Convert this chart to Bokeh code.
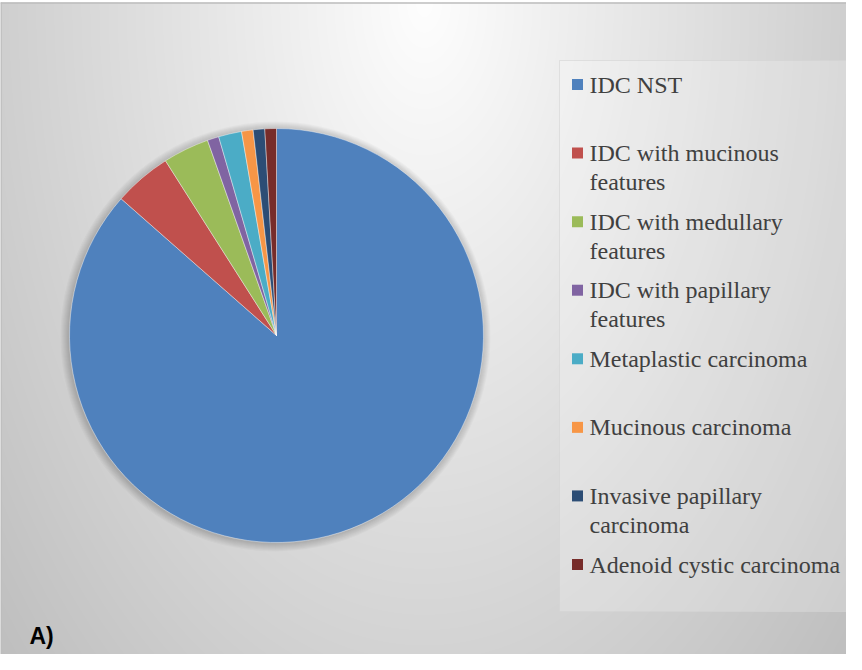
import numpy as np
from bokeh.plotting import figure
from bokeh.models import Range1d, ColumnDataSource
from bokeh.core.properties import value
from bokeh.embed import file_html
from bokeh.resources import INLINE

# ---- data ----
categories = ["IDC NST", "IDC with mucinous features", "IDC with medullary features",
              "IDC with papillary features", "Metaplastic carcinoma", "Mucinous carcinoma",
              "Invasive papillary carcinoma", "Adenoid cystic carcinoma"]
legend_labels = ["IDC NST", "IDC with mucinous\nfeatures", "IDC with medullary\nfeatures",
                 "IDC with papillary\nfeatures", "Metaplastic carcinoma", "Mucinous carcinoma",
                 "Invasive papillary\ncarcinoma", "Adenoid cystic carcinoma"]
counts = [96, 5, 4, 1, 2, 1, 1, 1]
colors = ["#4F81BD", "#C0504D", "#9BBB59", "#8064A2", "#4BACC6", "#F79646", "#2C4D75", "#772C2A"]

W, H = 846, 654
def X(px): return px - 8
def Y(py): return 662 - py

p = figure(width=W, height=H, output_backend="svg", toolbar_location=None,
           x_range=Range1d(0, W), y_range=Range1d(0, H), min_border=0)
p.axis.visible = False
p.grid.visible = False
p.outline_line_color = None
p.background_fill_color = "white"
p.border_fill_color = "white"

# ---- background radial gradient ----
bw, bh = W, 652
xs = np.arange(bw) + 0.5
ys = np.arange(bh) + 0.5
gx, gy = np.meshgrid(xs, ys)           # gy: 0 at bottom
cx, cy = X(432), bh                     # top-center
t = np.sqrt(((gx - cx) / 425.0) ** 2 + ((cy - gy) / 720.0) ** 2)
g = np.clip(254 - 47 * t, 0, 255).astype(np.uint32)
img = (255 << 24) | (g << 16) | (g << 8) | g
p.image_rgba(image=[img.astype(np.uint32)], x=0, y=0, dw=bw, dh=bh)
p.segment(x0=0, y0=bh - 0.5, x1=W, y1=bh - 0.5, line_color="#bcbcbc", line_width=1.5)
p.segment(x0=0.5, y0=0, x1=0.5, y1=bh, line_color="#bcbcbc", line_width=1.5)

# ---- pie ----
pcx, pcy, r = X(284), Y(343), 207
for k in range(8, 0, -1):
    p.circle(x=pcx - 1, y=pcy - 1, radius=r + k, fill_color="black", fill_alpha=0.025, line_color=None)

vals = np.array(counts, dtype=float)
frac = vals / vals.sum()
cum = np.concatenate([[0], np.cumsum(frac)])
start = np.pi / 2 - cum[:-1] * 2 * np.pi
end = np.pi / 2 - cum[1:] * 2 * np.pi
src = ColumnDataSource(dict(start=start, end=end, color=colors, cat=categories))
p.wedge(x=pcx, y=pcy, radius=r, start_angle="start", end_angle="end", direction="clock",
        fill_color="color", line_color="white", line_width=0.6, line_alpha=0.7, source=src)

# ---- legend ----
p.quad(left=X(567), right=X(858), top=Y(68), bottom=Y(619), fill_color="white", fill_alpha=0.22,
       line_color="#d4d4d4", line_alpha=0.6)
n = len(categories)
ly = [Y(92 + i * (572 - 92) / (n - 1)) for i in range(n)]
lsrc = ColumnDataSource(dict(x=[X(585)] * n, y=ly, tx=[X(597)] * n, ty=[v + 13 for v in ly],
                             label=legend_labels, color=colors))
p.rect(x="x", y="y", width=11, height=11, fill_color="color", line_color=None, source=lsrc)
p.text(x="tx", y="ty", text="label", text_font=value("Liberation Serif"), text_font_size="24px",
       text_color="#404040", text_baseline="top", text_line_height=1.12, source=lsrc)

# ---- panel label ----
p.text(x=[X(37)], y=[Y(643)], text=["A)"], text_font=value("Liberation Sans"), text_font_size="23px",
       text_font_style="bold", text_color="black", text_baseline="middle")

open("out.html", "w").write(file_html(p, INLINE))
